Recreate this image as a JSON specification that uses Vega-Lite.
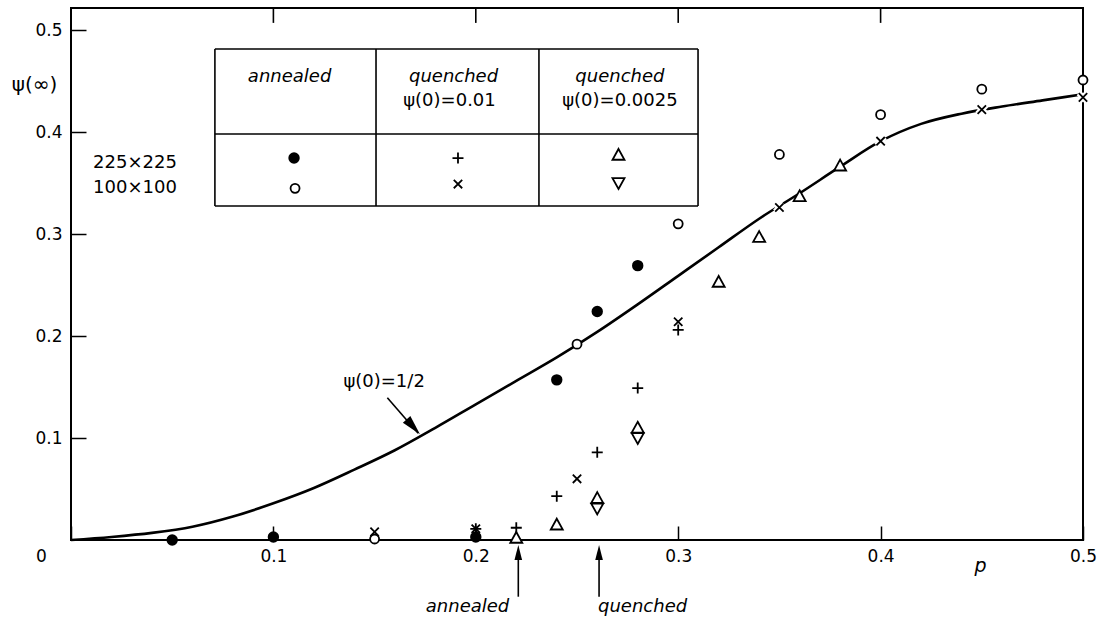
{
  "$schema": "https://vega.github.io/schema/vega-lite/v6.json",
  "width": 1012,
  "height": 532,
  "autosize": {"type": "none"},
  "padding": {"left": 71, "top": 8, "right": 27, "bottom": 80},
  "background": "white",
  "config": {
    "view": {"stroke": "black", "strokeWidth": 2},
    "axis": {"domain": false, "grid": false, "tickColor": "black", "labelColor": "black", "titleColor": "black", "labelFont": "DejaVu Sans", "titleFont": "DejaVu Sans"}
  },
  "datasets": {
    "curve": [
      {"p": 0.0, "psi": 0.0}, {"p": 0.02, "psi": 0.003}, {"p": 0.04, "psi": 0.007}, {"p": 0.06, "psi": 0.013},
      {"p": 0.08, "psi": 0.023}, {"p": 0.10, "psi": 0.036}, {"p": 0.12, "psi": 0.051}, {"p": 0.14, "psi": 0.069},
      {"p": 0.16, "psi": 0.088}, {"p": 0.18, "psi": 0.110}, {"p": 0.20, "psi": 0.133}, {"p": 0.22, "psi": 0.156},
      {"p": 0.24, "psi": 0.179}, {"p": 0.26, "psi": 0.204}, {"p": 0.28, "psi": 0.231}, {"p": 0.30, "psi": 0.259},
      {"p": 0.32, "psi": 0.287}, {"p": 0.34, "psi": 0.315}, {"p": 0.36, "psi": 0.340}, {"p": 0.38, "psi": 0.366},
      {"p": 0.40, "psi": 0.391}, {"p": 0.42, "psi": 0.408}, {"p": 0.44, "psi": 0.418}, {"p": 0.46, "psi": 0.425},
      {"p": 0.48, "psi": 0.431}, {"p": 0.50, "psi": 0.437}
    ],
    "points": [
      {"p": 0.05, "psi": 0.000, "series": "A225"}, {"p": 0.10, "psi": 0.003, "series": "A225"},
      {"p": 0.20, "psi": 0.003, "series": "A225"}, {"p": 0.24, "psi": 0.157, "series": "A225"},
      {"p": 0.26, "psi": 0.224, "series": "A225"}, {"p": 0.28, "psi": 0.269, "series": "A225"},
      {"p": 0.15, "psi": 0.001, "series": "A100"}, {"p": 0.25, "psi": 0.192, "series": "A100"},
      {"p": 0.30, "psi": 0.310, "series": "A100"}, {"p": 0.35, "psi": 0.378, "series": "A100"},
      {"p": 0.40, "psi": 0.417, "series": "A100"}, {"p": 0.45, "psi": 0.442, "series": "A100"},
      {"p": 0.50, "psi": 0.451, "series": "A100"},
      {"p": 0.20, "psi": 0.011, "series": "Q1_225"}, {"p": 0.22, "psi": 0.012, "series": "Q1_225"},
      {"p": 0.24, "psi": 0.043, "series": "Q1_225"}, {"p": 0.26, "psi": 0.086, "series": "Q1_225"},
      {"p": 0.28, "psi": 0.149, "series": "Q1_225"}, {"p": 0.30, "psi": 0.206, "series": "Q1_225"},
      {"p": 0.15, "psi": 0.008, "series": "Q1_100"}, {"p": 0.20, "psi": 0.011, "series": "Q1_100"},
      {"p": 0.25, "psi": 0.060, "series": "Q1_100"}, {"p": 0.30, "psi": 0.214, "series": "Q1_100"},
      {"p": 0.35, "psi": 0.326, "series": "Q1_100"}, {"p": 0.40, "psi": 0.391, "series": "Q1_100"},
      {"p": 0.45, "psi": 0.422, "series": "Q1_100"}, {"p": 0.50, "psi": 0.434, "series": "Q1_100"},
      {"p": 0.22, "psi": 0.002, "series": "Q2_225"}, {"p": 0.24, "psi": 0.015, "series": "Q2_225"},
      {"p": 0.26, "psi": 0.041, "series": "Q2_225"}, {"p": 0.28, "psi": 0.110, "series": "Q2_225"},
      {"p": 0.32, "psi": 0.253, "series": "Q2_225"}, {"p": 0.34, "psi": 0.297, "series": "Q2_225"},
      {"p": 0.36, "psi": 0.337, "series": "Q2_225"}, {"p": 0.38, "psi": 0.367, "series": "Q2_225"},
      {"p": 0.26, "psi": 0.031, "series": "Q2_100"}, {"p": 0.28, "psi": 0.100, "series": "Q2_100"},
      {"p": 0.1102, "psi": 0.3745, "series": "A225"}, {"p": 0.1107, "psi": 0.3448, "series": "A100"},
      {"p": 0.1912, "psi": 0.3745, "series": "Q1_225"}, {"p": 0.1912, "psi": 0.349, "series": "Q1_100"},
      {"p": 0.2705, "psi": 0.3775, "series": "Q2_225"}, {"p": 0.2705, "psi": 0.350, "series": "Q2_100"}
    ],
    "segments": [
      {"p": 0.0711, "psi": 0.4814, "p2": 0.3098, "psi2": 0.4814},
      {"p": 0.0711, "psi": 0.398, "p2": 0.3098, "psi2": 0.398},
      {"p": 0.0711, "psi": 0.3275, "p2": 0.3098, "psi2": 0.3275},
      {"p": 0.0711, "psi": 0.3275, "p2": 0.0711, "psi2": 0.4814},
      {"p": 0.1507, "psi": 0.3275, "p2": 0.1507, "psi2": 0.4814},
      {"p": 0.2312, "psi": 0.3275, "p2": 0.2312, "psi2": 0.4814},
      {"p": 0.3098, "psi": 0.3275, "p2": 0.3098, "psi2": 0.4814},
      {"p": 0.221, "psi": -0.0556, "p2": 0.221, "psi2": -0.015},
      {"p": 0.2609, "psi": -0.0556, "p2": 0.2609, "psi2": -0.015},
      {"p": 0.1563, "psi": 0.1395, "p2": 0.1715, "psi2": 0.1046},
      {"p": 0.1, "psi": 0.5216, "p2": 0.1, "psi2": 0.507},
      {"p": 0.2, "psi": 0.5216, "p2": 0.2, "psi2": 0.507},
      {"p": 0.3, "psi": 0.5216, "p2": 0.3, "psi2": 0.507},
      {"p": 0.4, "psi": 0.5216, "p2": 0.4, "psi2": 0.507}
    ],
    "heads": [
      {"p": 0.221, "psi": -0.0049, "kind": "up"},
      {"p": 0.2609, "psi": -0.0049, "kind": "up"},
      {"p": 0.1724, "psi": 0.1036, "kind": "diag"}
    ],
    "texts": [
      {"p": 0.108, "psi": 0.4539, "text": "annealed", "style": "italic"},
      {"p": 0.189, "psi": 0.4539, "text": "quenched", "style": "italic"},
      {"p": 0.187, "psi": 0.4304, "text": "ψ(0)=0.01", "style": "normal"},
      {"p": 0.2712, "psi": 0.4539, "text": "quenched", "style": "italic"},
      {"p": 0.2712, "psi": 0.4304, "text": "ψ(0)=0.0025", "style": "normal"},
      {"p": 0.0316, "psi": 0.3696, "text": "225×225", "style": "normal"},
      {"p": 0.0316, "psi": 0.3451, "text": "100×100", "style": "normal"},
      {"p": 0.1547, "psi": 0.1549, "text": "ψ(0)=1/2", "style": "normal"},
      {"p": 0.1959, "psi": -0.0657, "text": "annealed", "style": "italic"},
      {"p": 0.2824, "psi": -0.0657, "text": "quenched", "style": "italic"}
    ]
  },
  "resolve": {"scale": {"shape": "independent"}},
  "layer": [
    {
      "data": {"name": "curve"},
      "mark": {"type": "line", "color": "black", "strokeWidth": 2.6, "interpolate": "monotone"},
      "encoding": {
        "x": {"field": "p", "type": "quantitative", "scale": {"domain": [0, 0.5], "nice": false},
              "axis": {"orient": "bottom", "values": [0, 0.1, 0.2, 0.3, 0.4, 0.5],
                       "labelExpr": "datum.value == 0 ? '0' : format(datum.value, '.1f')",
                       "tickSize": -14, "tickWidth": 1.5, "labelPadding": 22, "labelFontSize": 17,
                       "labelFlush": false, "labelOverlap": false,
                       "labelOffset": {"condition": {"test": "datum.value == 0", "value": -30}, "value": 0},
                       "title": "p", "titleFontSize": 19, "titleFontStyle": "italic", "titleFontWeight": "normal",
                       "titleX": 909, "titleY": 25, "titleBaseline": "middle", "titleAlign": "center"}},
        "y": {"field": "psi", "type": "quantitative", "scale": {"domain": [0, 0.5216], "nice": false},
              "axis": {"orient": "left", "values": [0.1, 0.2, 0.3, 0.4, 0.5], "format": ".1f", "tickSize": -15, "tickWidth": 1.5,
                       "labelPadding": 24, "labelFontSize": 17,
                       "title": "ψ(∞)", "titleAngle": 0, "titleX": -37, "titleY": 76, "titleFontSize": 20,
                       "titleFontWeight": "normal", "titleAlign": "center", "titleBaseline": "middle"}}
      }
    },
    {
      "data": {"name": "segments"},
      "mark": {"type": "rule", "color": "black", "strokeWidth": 1.6},
      "encoding": {
        "x": {"field": "p", "type": "quantitative"},
        "x2": {"field": "p2"},
        "y": {"field": "psi", "type": "quantitative"},
        "y2": {"field": "psi2"}
      }
    },
    {
      "data": {"name": "texts"},
      "transform": [{"filter": "datum.style == 'italic'"}],
      "mark": {"type": "text", "font": "DejaVu Sans", "fontStyle": "italic", "fontSize": 18, "align": "center", "baseline": "middle", "color": "black"},
      "encoding": {
        "x": {"field": "p", "type": "quantitative"},
        "y": {"field": "psi", "type": "quantitative"},
        "text": {"field": "text"}
      }
    },
    {
      "data": {"name": "texts"},
      "transform": [{"filter": "datum.style == 'normal'"}],
      "mark": {"type": "text", "font": "DejaVu Sans", "fontSize": 18, "align": "center", "baseline": "middle", "color": "black"},
      "encoding": {
        "x": {"field": "p", "type": "quantitative"},
        "y": {"field": "psi", "type": "quantitative"},
        "text": {"field": "text"}
      }
    },
    {
      "data": {"name": "heads"},
      "mark": {"type": "point", "filled": true, "color": "black", "opacity": 1, "size": 400, "strokeWidth": 0},
      "encoding": {
        "x": {"field": "p", "type": "quantitative"},
        "y": {"field": "psi", "type": "quantitative"},
        "shape": {"field": "kind", "type": "nominal", "legend": null,
                  "scale": {"domain": ["up", "diag"], "range": ["M0,0L0.38,1.5L-0.38,1.5Z", "M0,0L-0.959,-1.825L-1.705,-1.159Z"]}}
      }
    },
    {
      "data": {"name": "points"},
      "transform": [{"filter": "datum.series == 'Q1_100' && datum.psi > 0.3"}],
      "mark": {"type": "point", "filled": false, "stroke": "white", "strokeWidth": 6, "opacity": 1, "size": 400, "shape": "M-0.42,-0.42L0.42,0.42M-0.42,0.42L0.42,-0.42"},
      "encoding": {
        "x": {"field": "p", "type": "quantitative"},
        "y": {"field": "psi", "type": "quantitative"}
      }
    },
    {
      "data": {"name": "points"},
      "mark": {"type": "point", "filled": false, "stroke": "black", "strokeWidth": 1.8, "opacity": 1, "size": 400},
      "encoding": {
        "x": {"field": "p", "type": "quantitative"},
        "y": {"field": "psi", "type": "quantitative"},
        "shape": {"field": "series", "type": "nominal", "legend": null,
                  "scale": {"domain": ["A225", "A100", "Q1_225", "Q1_100", "Q2_225", "Q2_100"],
                            "range": ["M-0.48,0A0.48,0.48 0 1,0 0.48,0A0.48,0.48 0 1,0 -0.48,0Z",
                                      "M-0.45,0A0.45,0.45 0 1,0 0.45,0A0.45,0.45 0 1,0 -0.45,0Z",
                                      "M-0.55,0L0.55,0M0,-0.55L0,0.55",
                                      "M-0.42,-0.42L0.42,0.42M-0.42,0.42L0.42,-0.42",
                                      "M0,-0.6L0.6,0.48L-0.6,0.48Z",
                                      "M0,0.6L0.6,-0.48L-0.6,-0.48Z"]}},
        "fill": {"field": "series", "type": "nominal", "legend": null,
                 "scale": {"domain": ["A225", "A100", "Q1_225", "Q1_100", "Q2_225", "Q2_100"],
                           "range": ["black", "white", "white", "white", "white", "white"]}}
      }
    }
  ]
}
